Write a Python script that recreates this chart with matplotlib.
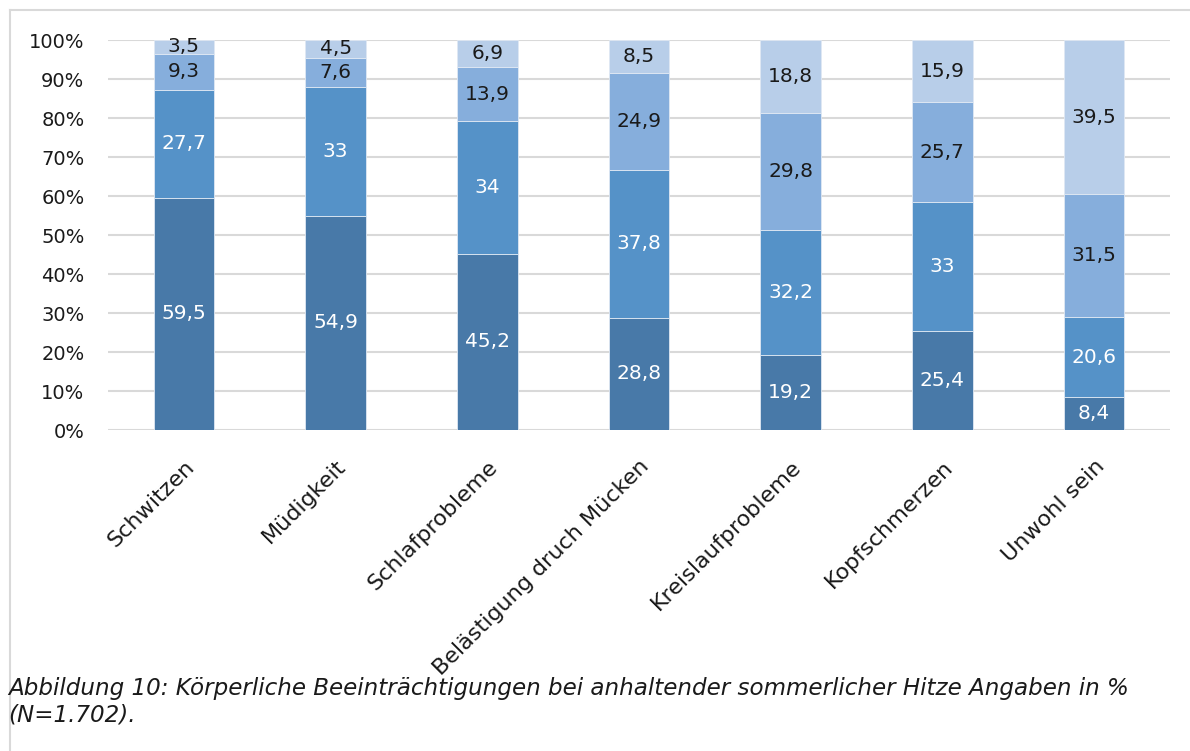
import matplotlib
matplotlib.use("Agg")
import matplotlib.pyplot as plt
from matplotlib.lines import Line2D
import numpy as np

# Kategorien und Anteile (in %), je Stufe von unten nach oben
categories = ["Schwitzen", "Müdigkeit", "Schlafprobleme", "Belästigung druch Mücken",
              "Kreislaufprobleme", "Kopfschmerzen", "Unwohl sein"]
level_1 = [59.5, 54.9, 45.2, 28.8, 19.2, 25.4, 8.4]
level_2 = [27.7, 33, 34, 37.8, 32.2, 33, 20.6]
level_3 = [9.3, 7.6, 13.9, 24.9, 29.8, 25.7, 31.5]
level_4 = [3.5, 4.5, 6.9, 8.5, 18.8, 15.9, 39.5]
y_ticks = [0, 10, 20, 30, 40, 50, 60, 70, 80, 90, 100]
caption = ("Abbildung 10: Körperliche Beeinträchtigungen bei anhaltender sommerlicher Hitze Angaben in %\n"
           "(N=1.702).")

colors = ["#4879A8", "#5592C8", "#86AEDC", "#B8CEE9"]
text_colors = ["white", "white", "#1a1a1a", "#1a1a1a"]

plt.rcParams["font.family"] = ["DejaVu Sans"]

fig = plt.figure(figsize=(11.9, 7.51), dpi=100)
ax = fig.add_axes([0.0908, 0.4274, 0.8922, 0.5193])

x = np.arange(len(categories))
bottom = np.zeros(len(categories))
for vals, col, tcol in zip([level_1, level_2, level_3, level_4], colors, text_colors):
    vals = np.array(vals, dtype=float)
    ax.bar(x, vals, width=0.4, bottom=bottom, color=col,
           edgecolor="#dfe8f3", linewidth=0.6, zorder=2)
    for xi, b, v in zip(x, bottom, vals):
        txt = f"{v:g}".replace(".", ",")
        ax.text(xi, b + v / 2, txt, ha="center", va="center",
                fontsize=14.5, color=tcol, zorder=3)
    bottom += vals

ax.set_xlim(-0.5, len(categories) - 0.5)
ax.set_ylim(0, 100)
ax.set_yticks(y_ticks)
ax.set_yticklabels([f"{t}%" for t in y_ticks], fontsize=14, color="#1a1a1a")
ax.yaxis.grid(True, color="#d9d9d9", linewidth=1.5, zorder=0)
ax.set_axisbelow(True)
ax.tick_params(axis="both", length=0)
ax.tick_params(axis="y", pad=17)
ax.set_xticks(x)
ax.set_xticklabels(categories, rotation=45, ha="right", rotation_mode="anchor",
                   fontsize=16, color="#1a1a1a")
ax.tick_params(axis="x", pad=19)
for s in ax.spines.values():
    s.set_visible(False)

# Rahmen links und oben
fig.add_artist(Line2D([10 / 1190, 10 / 1190], [0, 1 - 10 / 751],
                      transform=fig.transFigure, color="#d9d9d9", linewidth=1.5))
fig.add_artist(Line2D([10 / 1190, 1], [1 - 10 / 751, 1 - 10 / 751],
                      transform=fig.transFigure, color="#d9d9d9", linewidth=1.5))

fig.text(8 / 1190, 1 - 722 / 751, caption, ha="left", va="baseline",
         fontsize=16.6, style="italic", color="#1a1a1a", linespacing=1.25)

fig.savefig("out.png", dpi=100, facecolor="white")
